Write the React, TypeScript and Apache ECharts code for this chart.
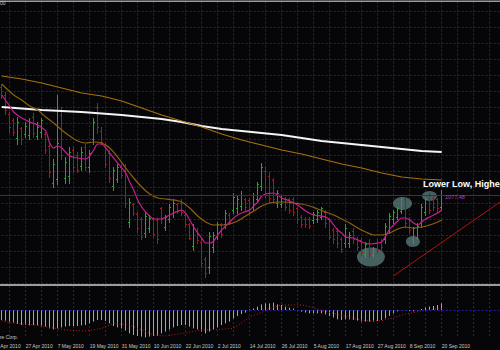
import React, { useEffect, useRef } from 'react';
import * as echarts from 'echarts';

// ---- data (daily bars, 19 Apr 2010 .. 20 Sep 2010) ----
const dateLabels = ['15 Apr 2010', '27 Apr 2010', '7 May 2010', '19 May 2010', '31 May 2010', '10 Jun 2010', '22 Jun 2010', '2 Jul 2010', '14 Jul 2010', '26 Jul 2010', '5 Aug 2010', '17 Aug 2010', '27 Aug 2010', '8 Sep 2010', '20 Sep 2010'];

const opens = [1111.25, 1108.75, 1102.81, 1100.63, 1095.31, 1098.13, 1096.56, 1096.25, 1101.87, 1095.93, 1097.18, 1096.56, 1092.81, 1081.25, 1082.19, 1102.5, 1082.81, 1083.43, 1091.56, 1090.0, 1086.56, 1092.19, 1085.94, 1094.69, 1104.69, 1097.5, 1093.13, 1090.62, 1080.31, 1082.5, 1086.25, 1085.31, 1069.06, 1074.38, 1071.56, 1069.69, 1065.62, 1066.88, 1070.0, 1069.38, 1073.13, 1067.5, 1070.0, 1071.87, 1074.38, 1075.0, 1071.25, 1068.13, 1061.56, 1066.56, 1062.81, 1057.5, 1054.69, 1060.94, 1064.37, 1068.13, 1068.13, 1071.25, 1072.81, 1073.13, 1074.06, 1075.94, 1075.63, 1073.75, 1076.25, 1080.31, 1085.0, 1083.43, 1081.88, 1074.69, 1074.38, 1076.25, 1075.94, 1076.25, 1073.13, 1070.62, 1070.0, 1070.0, 1069.38, 1070.0, 1070.62, 1072.18, 1069.69, 1066.56, 1066.25, 1063.75, 1062.19, 1062.19, 1066.25, 1063.75, 1063.13, 1059.06, 1062.5, 1058.75, 1062.5, 1062.81, 1063.44, 1066.56, 1069.69, 1070.62, 1072.5, 1075.94, 1070.0, 1063.44, 1064.37, 1068.44, 1072.18, 1077.19, 1076.56, 1075.94, 1073.75];
const highs = [1111.88, 1109.68, 1103.43, 1101.56, 1101.87, 1098.75, 1100.31, 1101.56, 1103.12, 1100.31, 1101.56, 1097.18, 1093.75, 1088.44, 1108.75, 1104.69, 1089.37, 1092.5, 1092.5, 1090.93, 1092.19, 1093.13, 1091.56, 1101.56, 1106.25, 1098.44, 1093.75, 1091.56, 1086.25, 1086.88, 1086.88, 1086.88, 1076.56, 1075.0, 1072.18, 1070.62, 1072.18, 1071.25, 1070.62, 1070.31, 1073.75, 1071.25, 1074.38, 1075.94, 1075.0, 1075.94, 1071.87, 1068.75, 1068.13, 1067.18, 1063.44, 1058.12, 1065.93, 1065.93, 1069.06, 1068.75, 1072.81, 1071.87, 1078.12, 1077.5, 1078.44, 1076.56, 1076.56, 1078.12, 1081.56, 1087.5, 1085.94, 1084.68, 1082.81, 1079.06, 1077.5, 1076.87, 1076.56, 1076.87, 1073.75, 1071.25, 1070.62, 1070.62, 1072.18, 1072.81, 1073.75, 1072.81, 1070.31, 1067.18, 1067.18, 1064.37, 1068.13, 1065.93, 1067.18, 1064.37, 1064.06, 1062.81, 1063.44, 1061.25, 1063.44, 1063.44, 1068.75, 1071.87, 1072.81, 1073.75, 1076.87, 1076.87, 1070.62, 1067.5, 1068.75, 1074.38, 1076.56, 1078.12, 1077.5, 1076.56, 1079.06];
const lows = [1107.81, 1102.81, 1097.18, 1096.25, 1093.13, 1093.13, 1095.62, 1094.69, 1095.62, 1094.69, 1095.62, 1090.62, 1083.12, 1079.69, 1080.63, 1088.44, 1081.25, 1081.25, 1084.68, 1084.68, 1085.31, 1085.31, 1084.68, 1093.13, 1096.87, 1093.13, 1085.94, 1081.56, 1079.06, 1081.56, 1083.12, 1073.75, 1067.5, 1071.25, 1065.93, 1063.44, 1064.37, 1065.93, 1064.37, 1062.5, 1068.75, 1066.56, 1069.06, 1070.62, 1071.87, 1071.25, 1067.5, 1063.44, 1060.31, 1062.5, 1055.0, 1051.87, 1053.12, 1059.68, 1063.44, 1064.37, 1067.18, 1068.13, 1071.87, 1071.87, 1072.81, 1072.81, 1071.25, 1072.81, 1075.31, 1079.06, 1076.87, 1075.31, 1075.0, 1073.75, 1073.44, 1072.81, 1071.87, 1071.25, 1068.75, 1067.5, 1067.5, 1067.18, 1068.75, 1069.06, 1069.69, 1067.5, 1063.44, 1062.5, 1061.25, 1059.68, 1061.25, 1061.25, 1062.5, 1060.31, 1058.75, 1058.12, 1058.12, 1058.12, 1059.37, 1060.31, 1062.5, 1065.62, 1068.75, 1069.69, 1071.87, 1067.5, 1065.62, 1062.5, 1063.44, 1067.5, 1071.25, 1071.87, 1072.81, 1072.18, 1072.81];
const closes = [1108.44, 1104.06, 1098.44, 1097.18, 1100.31, 1094.69, 1099.06, 1100.31, 1096.87, 1098.75, 1100.63, 1091.56, 1084.68, 1086.88, 1093.75, 1090.0, 1087.81, 1090.93, 1085.94, 1085.31, 1090.93, 1086.25, 1090.62, 1100.31, 1098.44, 1094.06, 1086.88, 1082.81, 1085.31, 1085.94, 1083.75, 1075.0, 1075.31, 1071.87, 1066.88, 1064.37, 1070.93, 1070.31, 1065.31, 1063.44, 1069.69, 1070.62, 1073.44, 1075.0, 1072.5, 1072.18, 1068.13, 1064.06, 1066.88, 1063.13, 1056.25, 1053.12, 1064.68, 1065.0, 1068.13, 1065.31, 1071.87, 1069.06, 1076.87, 1076.25, 1077.5, 1073.75, 1072.18, 1077.19, 1080.63, 1086.25, 1078.12, 1076.56, 1076.25, 1078.12, 1076.56, 1073.75, 1072.81, 1072.18, 1069.69, 1068.13, 1068.13, 1067.81, 1071.56, 1072.18, 1073.13, 1068.44, 1064.37, 1063.44, 1062.19, 1060.62, 1067.18, 1065.0, 1063.44, 1061.25, 1059.68, 1061.88, 1059.06, 1060.62, 1060.31, 1060.94, 1067.81, 1070.93, 1072.18, 1073.13, 1076.25, 1068.44, 1066.56, 1066.88, 1067.81, 1073.44, 1075.94, 1072.81, 1073.75, 1073.13, 1077.5];

// moving averages: [bar index, value]
const maFast = [[0, 1108.75], [2, 1105.31], [3, 1103.44], [5, 1101.56], [7, 1100.31], [9, 1099.38], [11, 1097.5], [12, 1093.75], [13, 1092.18], [14, 1092.81], [15, 1092.18], [17, 1089.69], [19, 1089.06], [21, 1088.75], [22, 1089.69], [23, 1091.56], [24, 1093.44], [25, 1093.44], [26, 1092.18], [27, 1090.62], [28, 1089.06], [29, 1087.5], [31, 1084.37], [32, 1081.56], [33, 1079.06], [34, 1075.94], [35, 1073.75], [36, 1072.18], [37, 1070.93], [38, 1070.0], [40, 1070.0], [41, 1070.62], [43, 1071.87], [45, 1072.81], [46, 1071.87], [47, 1069.69], [48, 1067.5], [49, 1065.62], [50, 1064.06], [51, 1062.5], [52, 1062.5], [53, 1063.13], [54, 1065.0], [55, 1066.56], [56, 1067.81], [57, 1069.06], [58, 1070.31], [59, 1071.25], [60, 1071.87], [62, 1072.81], [63, 1074.06], [64, 1075.31], [65, 1077.19], [66, 1077.81], [68, 1078.12], [69, 1077.5], [70, 1076.56], [72, 1075.63], [74, 1074.38], [76, 1072.5], [78, 1071.25], [80, 1070.93], [81, 1070.62], [82, 1069.69], [83, 1068.13], [84, 1066.56], [85, 1065.62], [86, 1064.37], [88, 1064.06], [90, 1062.81], [92, 1062.19], [94, 1062.5], [95, 1062.81], [96, 1064.68], [97, 1066.88], [98, 1068.13], [99, 1069.38], [100, 1070.31], [101, 1070.31], [102, 1069.69], [103, 1068.75], [104, 1068.13], [105, 1069.06], [106, 1070.0], [107, 1070.62], [108, 1071.25], [109, 1071.87], [110, 1072.81]];
const maMid = [[0, 1112.19], [3, 1108.75], [5, 1107.19], [7, 1105.31], [9, 1104.06], [11, 1101.87], [13, 1100.0], [15, 1097.81], [17, 1095.93], [19, 1094.37], [21, 1093.75], [23, 1094.06], [25, 1093.75], [27, 1092.18], [29, 1089.37], [31, 1085.94], [33, 1082.81], [35, 1080.0], [37, 1077.81], [39, 1076.56], [41, 1076.25], [43, 1075.94], [45, 1075.31], [47, 1073.44], [49, 1070.93], [51, 1069.06], [53, 1068.13], [55, 1068.13], [57, 1068.44], [59, 1069.38], [61, 1070.93], [63, 1072.5], [65, 1074.06], [67, 1075.0], [69, 1075.31], [71, 1075.31], [73, 1075.0], [75, 1074.69], [77, 1074.06], [79, 1073.13], [81, 1072.18], [83, 1071.25], [85, 1070.0], [87, 1068.75], [89, 1067.18], [91, 1065.93], [93, 1065.0], [95, 1065.0], [97, 1065.62], [99, 1066.88], [101, 1067.5], [103, 1067.18], [105, 1067.5], [107, 1068.13], [109, 1069.06], [110, 1069.69]];
const maLong = [[0, 1114.69], [5, 1113.75], [10, 1112.5], [15, 1110.94], [20, 1109.38], [25, 1108.44], [30, 1106.87], [35, 1104.69], [40, 1102.5], [45, 1100.63], [50, 1098.75], [55, 1096.56], [60, 1094.69], [65, 1093.13], [70, 1091.56], [75, 1090.31], [80, 1088.75], [85, 1087.19], [90, 1085.94], [95, 1084.37], [100, 1083.12], [105, 1082.5], [110, 1082.19]];
const maSlow = [[0, 1105.0], [10, 1104.06], [20, 1103.44], [30, 1102.5], [40, 1101.25], [45, 1100.31], [50, 1099.06], [55, 1098.13], [60, 1097.5], [65, 1096.87], [70, 1096.25], [75, 1095.31], [80, 1094.37], [85, 1093.75], [90, 1093.13], [95, 1092.5], [100, 1091.88], [105, 1091.25], [110, 1090.94]];

const macdHist = [-5, -5.3, -5.8, -6.3, -7, -7.5, -7.5, -7.7, -7.5, -7.7, -7.8, -8.3, -9.2, -9.7, -9.2, -8.7, -8.3, -8, -8, -8, -7.7, -7.5, -6.7, -5.8, -5, -5, -5.5, -6.7, -8, -8.7, -9.2, -10.3, -11.7, -12.5, -13, -13.3, -13.7, -13.3, -13, -13, -11.7, -10.8, -9.7, -8.7, -8, -7.5, -7.5, -8.3, -9.2, -9.7, -10.8, -11.7, -10.8, -10, -8.7, -7.5, -6.7, -5.8, -4.2, -3, -2, -1.3, 0.3, 0.8, 1.7, 2.8, 3.3, 3.3, 3.7, 2.8, 2.5, 1.7, 1.2, 0.7, -0.2, -0.8, -1.3, -1.7, -1.7, -1.7, -1.7, -2.2, -3, -3.8, -4.7, -5, -4.7, -4.7, -5, -5.3, -5.8, -5.8, -5.8, -5.8, -5.5, -5, -4.2, -3, -1.7, -0.7, -0.2, -0.2, -0.5, -0.7, -0.2, 0.5, 1.2, 1.7, 2, 2.5, 3.3];
const macdSignal = [[0, -5.3], [2, -6.3], [8, -7.5], [12, -8.7], [16, -10], [21, -10.5], [25, -9.2], [28, -6.7], [32, -7.5], [35, -10], [38, -12.5], [41, -13], [45, -11.7], [50, -10], [54, -9.7], [58, -9.2], [61, -5], [62, -3.3], [65, -1.3], [67, 0.8], [70, 2.5], [75, 2.5], [77, 1.7], [80, -0.3], [83, -1.7], [86, -3.3], [90, -5], [92, -5.5], [95, -5.3], [98, -3.8], [101, -2], [105, -0.5], [108, 0.3], [110, 0.8]];

const ellipseCenters = [[92.3, 1058.13], [100.2, 1074.85], [102.8, 1062.97], [106.95, 1077.19]];
const trendLine = [[97.9, 1052.19], [124.6, 1075.3]];
const lastPrice = 1077.48;

// ---- styles ----
const BG = '#060608';
const GRIDC = '#1e1e90';
const GREEN = '#22a822';
const RED = '#a8161e';
const ELLIPSE_SIZES = [[28, 19], [19, 13], [14, 11], [15, 10]];
const FONT = 'Liberation Sans';

export default function App() {
  const ref = useRef<HTMLDivElement>(null);
  useEffect(() => {
    document.body.style.margin = '0';
    const chart = echarts.init(ref.current as HTMLDivElement, null, { renderer: 'svg', width: 500, height: 350 });
    const ohlc = opens.map((o, i) => [i, o, highs[i], lows[i], closes[i]]);
    const hist = macdHist.map((v, i) => [i, v]);
    const splitStyle = { show: true, lineStyle: { color: GRIDC, type: [2, 2] as any, width: 1 } };
    const hidden = { axisLine: { show: false }, axisTick: { show: false } };
    const option: any = {
      animation: false,
      backgroundColor: BG,
      grid: [
        { left: -6.3, right: 0, top: 1.5, height: 281.5, containLabel: false, outerBoundsMode: 'none' },
        { left: -6.3, right: 0, top: 286, height: 52, containLabel: false, outerBoundsMode: 'none' },
      ],
      xAxis: [
        { gridIndex: 0, type: 'value', min: -2, max: 124.575, interval: 4, ...hidden, axisLabel: { show: false }, splitLine: splitStyle },
        {
          gridIndex: 1, type: 'value', min: -2, max: 124.575, interval: 4, ...hidden, splitLine: splitStyle,
          axisLabel: {
            show: true, showMinLabel: true, showMaxLabel: true, hideOverlap: false,
            color: '#c8c8c8', fontSize: 5, fontFamily: FONT, align: 'left', margin: 5,
            formatter: (v: number) => {
              const k = (v + 2) / 8;
              return Number.isInteger(k) && dateLabels[k] ? dateLabels[k] : '';
            },
          },
        },
      ],
      yAxis: [
        { gridIndex: 0, type: 'value', min: 1050, max: 1137.97, interval: 5, ...hidden, axisLabel: { show: false }, splitLine: splitStyle },
        { gridIndex: 1, type: 'value', min: -14, max: 12, ...hidden, axisLabel: { show: false }, splitLine: { show: false } },
      ],
      series: [
        {
          type: 'scatter', xAxisIndex: 0, yAxisIndex: 0, z: 1, silent: true,
          data: ellipseCenters,
          symbol: 'circle',
          symbolSize: (_v: any, p: any) => ELLIPSE_SIZES[p.dataIndex],
          itemStyle: { color: 'rgba(96,134,130,0.88)' },
        },
        {
          type: 'custom', xAxisIndex: 0, yAxisIndex: 0, z: 2, silent: true,
          data: ohlc,
          encode: { x: 0, y: [1, 2, 3, 4] },
          renderItem: (_p: any, api: any) => {
            const i = api.value(0);
            const o = api.value(1), h = api.value(2), l = api.value(3), c = api.value(4);
            const pH = api.coord([i, h]);
            const pL = api.coord([i, l]);
            const pO = api.coord([i, o]);
            const pC = api.coord([i, c]);
            const x = Math.floor(pH[0]) + 0.5;
            const color = c >= o ? GREEN : RED;
            const yo = Math.floor(pO[1]) + 0.5;
            const yc = Math.floor(pC[1]) + 0.5;
            const st = { stroke: color, lineWidth: 1 };
            return {
              type: 'group',
              children: [
                { type: 'line', shape: { x1: x, y1: Math.floor(pH[1]), x2: x, y2: Math.ceil(pL[1]) }, style: st },
                { type: 'line', shape: { x1: x - 1.5, y1: yo, x2: x, y2: yo }, style: st },
                { type: 'line', shape: { x1: x, y1: yc, x2: x + 1.5, y2: yc }, style: st },
              ],
            };
          },
        },
        {
          type: 'line', xAxisIndex: 0, yAxisIndex: 0, z: 3, data: maSlow, showSymbol: false, silent: true,
          lineStyle: { color: '#f4f4f4', width: 2 },
        },
        {
          type: 'line', xAxisIndex: 0, yAxisIndex: 0, z: 3, data: maLong, showSymbol: false, silent: true,
          lineStyle: { color: '#a8700e', width: 1.2 },
        },
        {
          type: 'line', xAxisIndex: 0, yAxisIndex: 0, z: 3, data: maMid, showSymbol: false, silent: true, smooth: 0.3,
          lineStyle: { color: '#8e6012', width: 1.2 },
        },
        {
          type: 'line', xAxisIndex: 0, yAxisIndex: 0, z: 4, data: maFast, showSymbol: false, silent: true, smooth: 0.3,
          lineStyle: { color: '#c4208c', width: 1.2 },
        },
        {
          type: 'line', xAxisIndex: 0, yAxisIndex: 0, z: 4, data: trendLine, showSymbol: false, silent: true,
          lineStyle: { color: '#b01414', width: 1 },
          markLine: {
            silent: true, symbol: 'none', label: { show: false },
            lineStyle: { color: '#2626b8', type: 'solid', width: 1 },
            data: [{ yAxis: lastPrice }],
          },
        },
        {
          type: 'custom', xAxisIndex: 1, yAxisIndex: 1, z: 2, silent: true,
          data: hist,
          encode: { x: 0, y: 1 },
          renderItem: (_p: any, api: any) => {
            const i = api.value(0);
            const v = api.value(1);
            const p0 = api.coord([i, 0]);
            const p1 = api.coord([i, v]);
            const x = Math.floor(p0[0]) + 0.5;
            return { type: 'line', shape: { x1: x, y1: p0[1], x2: x, y2: p1[1] }, style: { stroke: '#a6a6a6', lineWidth: 1 } };
          },
        },
        {
          type: 'line', xAxisIndex: 1, yAxisIndex: 1, z: 3, data: macdSignal, showSymbol: false, silent: true,
          lineStyle: { color: '#c01818', width: 1, type: [1, 2] },
          markLine: {
            silent: true, symbol: 'none', label: { show: false },
            lineStyle: { color: GRIDC, type: [2, 2], width: 1 },
            data: [{ yAxis: 0 }],
          },
        },
      ],
      graphic: [
        { type: 'rect', z: 100, shape: { x: 0, y: 0.5, width: 500, height: 1.5 }, style: { fill: '#9c9c9c' } },
        { type: 'rect', z: 100, shape: { x: 0, y: 284, width: 500, height: 2 }, style: { fill: '#9c9c9c' } },
        { type: 'text', z: 100, x: 0, y: 3, style: { text: '00', fill: '#c8c8c8', font: `5px "${FONT}"`, textAlign: 'left', textVerticalAlign: 'middle' } },
        { type: 'text', z: 100, x: 423, y: 183.5, style: { text: 'Lower Low, Higher Low', fill: '#ffffff', font: `bold 9px "${FONT}"`, textAlign: 'left', textVerticalAlign: 'middle' } },
        { type: 'text', z: 100, x: 445, y: 197, style: { text: '1077.48', fill: '#b83cb8', font: `5.5px "${FONT}"`, textAlign: 'left', textVerticalAlign: 'middle' } },
        { type: 'text', z: 100, x: 18, y: 337, style: { text: '© 2001-2010 MetaQuotes Software Corp.', fill: '#c8c8c8', font: `5px "${FONT}"`, textAlign: 'right', textVerticalAlign: 'middle' } },
      ],
    };
    chart.setOption(option);
    return () => chart.dispose();
  }, []);
  return <div ref={ref} style={{ width: 500, height: 350, position: 'absolute', left: 0, top: 0 }} />;
}
